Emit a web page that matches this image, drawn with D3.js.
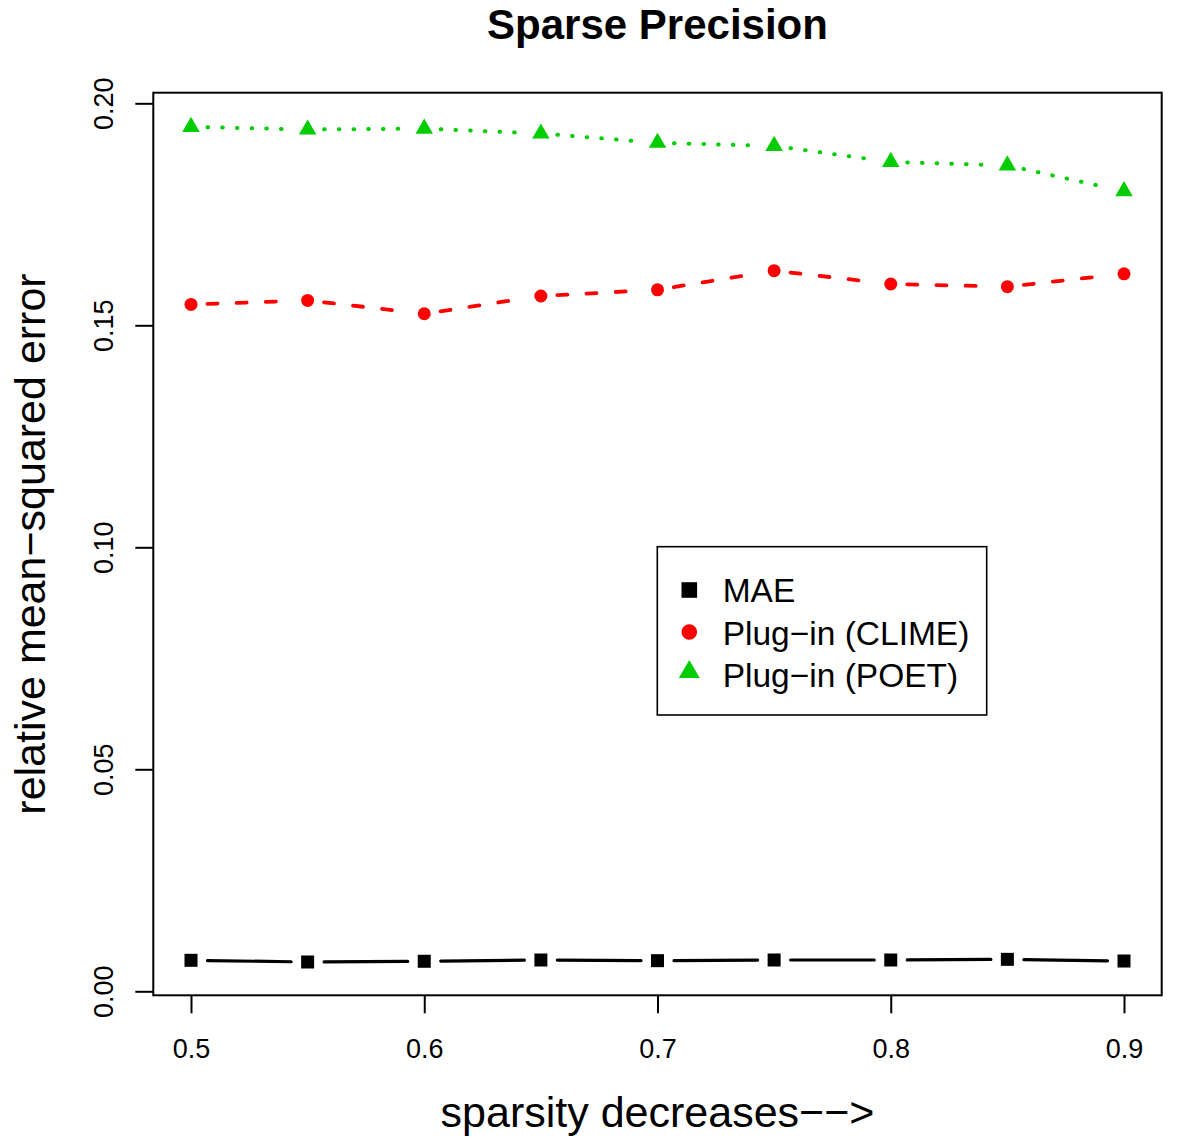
<!DOCTYPE html>
<html>
<head>
<meta charset="utf-8">
<script src="https://cdn.jsdelivr.net/npm/d3@7"></script>
<style>
  html, body { margin: 0; padding: 0; background: #fff; }
  svg { display: block; font-family: "Liberation Sans", Arial, Helvetica, sans-serif; }
</style>
</head>
<body>
<svg id="chart" width="1200" height="1145"></svg>
<script>
// ---- data ----
const xValues = [0.5, 0.55, 0.6, 0.65, 0.7, 0.75, 0.8, 0.85, 0.9];
const maeValues = [0.00698, 0.0066, 0.00676, 0.00705, 0.0069, 0.00705, 0.00705, 0.0072, 0.00682];
const climeValues = [0.1547, 0.1556, 0.1526, 0.1566, 0.1580, 0.1623, 0.1593, 0.1587, 0.1616];
const poetValues = [0.1947, 0.1941, 0.1943, 0.1932, 0.1911, 0.1904, 0.1868, 0.1860, 0.1802];
const xTickValues = [0.5, 0.6, 0.7, 0.8, 0.9];
const yTickValues = [0, 0.05, 0.10, 0.15, 0.20];
const seriesNames = ["MAE", "Plug\u2212in (CLIME)", "Plug\u2212in (POET)"];
const titleText = "Sparse Precision";
const xLabelText = "sparsity decreases\u2212\u2212>";
const yLabelText = "relative mean\u2212squared error";

// ---- layout ----
const box = { left: 153.3, right: 1161.7, top: 92.7, bottom: 995.3 };
const svg = d3.select("#chart");

const x = d3.scaleLinear().domain([0.5, 0.9]).range([191, 1124]);
const y = d3.scaleLinear().domain([0, 0.2]).range([991.3, 103.3]);

const GREEN = "#00CD00", RED = "#FF0000", BLACK = "#000000";

const series = [
  { name: seriesNames[0], values: maeValues, color: BLACK, shape: "square", width: 3.2, dash: null, cap: "round" },
  { name: seriesNames[1], values: climeValues, color: RED, shape: "circle", width: 3.8, dash: "10,19.2", cap: "round" },
  { name: seriesNames[2], values: poetValues, color: GREEN, shape: "triangle", width: 4, dash: "0.6,14.1", cap: "round" }
];

// ---- title ----
svg.append("text")
  .attr("x", (box.left + box.right) / 2)
  .attr("y", 39)
  .attr("text-anchor", "middle")
  .attr("font-weight", "bold")
  .attr("font-size", 42)
  .text(titleText);

// ---- axes ----
const xAxis = d3.axisBottom(x).tickValues(xTickValues).tickSize(18).tickPadding(0)
  .tickFormat(d3.format(".1f"));
const gx = svg.append("g").attr("transform", `translate(0,${box.bottom})`).call(xAxis);
gx.select(".domain").remove();
gx.selectAll(".tick line").attr("stroke", "#000").attr("stroke-width", 2);
gx.selectAll(".tick text")
  .attr("y", 62.7).attr("dy", 0)
  .attr("font-size", 27)
  .attr("font-family", "Liberation Sans, Arial, sans-serif")
  .attr("fill", "#000");

const yAxis = d3.axisLeft(y).tickValues(yTickValues).tickSize(18).tickPadding(0)
  .tickFormat(d3.format(".2f"));
const gy = svg.append("g").attr("transform", `translate(${box.left},0)`).call(yAxis);
gy.select(".domain").remove();
gy.selectAll(".tick line").attr("stroke", "#000").attr("stroke-width", 2);
gy.selectAll(".tick text")
  .attr("transform", "rotate(-90)")
  .attr("x", 0)
  .attr("y", -(box.left - 113))
  .attr("dy", 0)
  .attr("text-anchor", "middle")
  .attr("font-size", 27)
  .attr("font-family", "Liberation Sans, Arial, sans-serif")
  .attr("fill", "#000");

// ---- axis titles ----
svg.append("text")
  .attr("x", (box.left + box.right) / 2)
  .attr("y", 1127)
  .attr("text-anchor", "middle")
  .attr("font-size", 43)
  .text(xLabelText);

svg.append("text")
  .attr("transform", `translate(45,${(box.top + box.bottom) / 2}) rotate(-90)`)
  .attr("text-anchor", "middle")
  .attr("font-size", 43)
  .text(yLabelText);

// ---- plot box ----
svg.append("rect")
  .attr("x", box.left).attr("y", box.top)
  .attr("width", box.right - box.left).attr("height", box.bottom - box.top)
  .attr("fill", "none").attr("stroke", "#000").attr("stroke-width", 2);

// ---- markers ----
function drawMarker(g, shape, cx, cy, color, s) {
  if (shape === "square") {
    const h = 6.5 * s;
    g.append("rect").attr("x", cx - h).attr("y", cy - h)
      .attr("width", 2 * h).attr("height", 2 * h).attr("fill", color);
  } else if (shape === "circle") {
    g.append("circle").attr("cx", cx).attr("cy", cy).attr("r", 6.5 * s).attr("fill", color);
  } else {
    const r = 10.1 * s, xc = 8.75 * s, yc = 5.05 * s;
    g.append("path")
      .attr("d", `M${cx},${cy - r}L${cx + xc},${cy + yc}L${cx - xc},${cy + yc}Z`)
      .attr("fill", color);
  }
}

// ---- series (type "b": lines with gaps around points) ----
const GAP = 16.5;
series.forEach(s => {
  const g = svg.append("g");
  const pts = xValues.map((xv, i) => [x(xv), y(s.values[i])]);
  for (let i = 0; i < pts.length - 1; i++) {
    const [x0, y0] = pts[i], [x1, y1] = pts[i + 1];
    const dx = x1 - x0, dy = y1 - y0, len = Math.hypot(dx, dy);
    if (len <= 2 * GAP) continue;
    const ux = dx / len, uy = dy / len;
    const line = g.append("line")
      .attr("x1", x0 + ux * GAP).attr("y1", y0 + uy * GAP)
      .attr("x2", x1 - ux * GAP).attr("y2", y1 - uy * GAP)
      .attr("stroke", s.color).attr("stroke-width", s.width)
      .attr("stroke-linecap", s.cap);
    if (s.dash) line.attr("stroke-dasharray", s.dash);
  }
  pts.forEach(([px, py]) => drawMarker(g, s.shape, px, py, s.color, 1));
});

// ---- legend ----
const legend = svg.append("g");
legend.append("rect")
  .attr("x", 657.3).attr("y", 546.7)
  .attr("width", 986.7 - 657.3).attr("height", 715 - 546.7)
  .attr("fill", "#fff").attr("stroke", "#000").attr("stroke-width", 1.6);
const legendSymY = [590, 632, 672];
const legendTextY = [601.7, 644.5, 686.7];
series.forEach((s, i) => {
  drawMarker(legend, s.shape, 689.3, legendSymY[i], s.color, 1.2);
  legend.append("text")
    .attr("x", 722.7).attr("y", legendTextY[i])
    .attr("font-size", 33.5)
    .text(s.name);
});
</script>
</body>
</html>
